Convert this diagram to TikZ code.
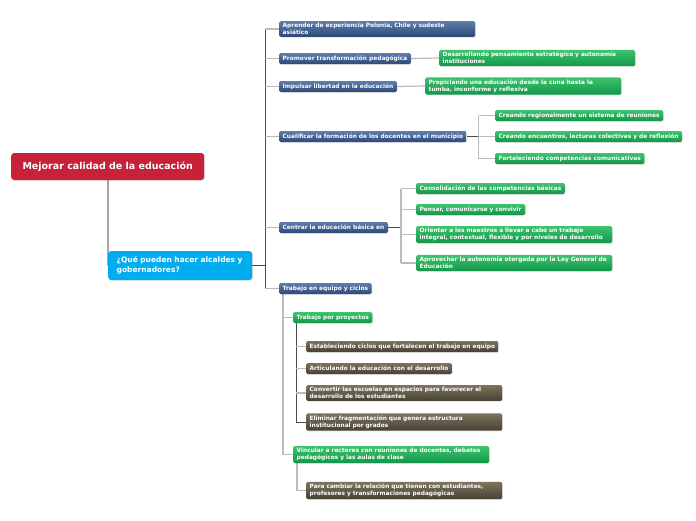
\documentclass[tikz,border=0pt]{standalone}
\usepackage{fontspec}
\setmainfont{DejaVu Sans}
\usetikzlibrary{shadows,backgrounds}
\definecolor{rojoraiz}{HTML}{C8213A}
\definecolor{cian}{HTML}{00AEEF}
\definecolor{azulA}{HTML}{5F7DAD}
\definecolor{azulB}{HTML}{2A4878}
\definecolor{verdeA}{HTML}{3DC46C}
\definecolor{verdeB}{HTML}{13964A}
\definecolor{cafeA}{HTML}{7C745E}
\definecolor{cafeB}{HTML}{474133}
\definecolor{grisrama}{HTML}{BBBBBB}
\definecolor{grisosc}{HTML}{4A4A4A}
\begin{document}
\begin{tikzpicture}[x=1pt,y=-1pt,
  caja/.style={rounded corners=1.5pt, text=white, anchor=west, align=left,
    font=\bfseries\fontsize{5.85}{6.9}\selectfont,
    inner xsep=3.5pt, inner ysep=2.2pt, minimum height=11pt,
    drop shadow={opacity=0.25,shadow xshift=0.7pt,shadow yshift=-0.7pt}},
  azul/.style={caja, top color=azulA, bottom color=azulB},
  verde/.style={caja, top color=verdeA, bottom color=verdeB},
  cafe/.style={caja, top color=cafeA, bottom color=cafeB},
  ancha/.style={text width=189pt},
  rama/.style={draw=grisrama, line width=1.2pt},
  tallo/.style={draw=grisosc, line width=1pt}]
  \useasboundingbox (0,0) rectangle (696,520);

  % raiz y pregunta
  \node[caja, fill=rojoraiz, font=\bfseries\fontsize{9.5}{11}\selectfont,
    rounded corners=3pt, align=center, minimum width=193pt, minimum height=27pt] (raiz) at (11,166.5) {Mejorar calidad de la educación};
  \node[caja, fill=cian, font=\bfseries\fontsize{7.5}{10}\selectfont,
    rounded corners=3pt, inner xsep=8.5pt, text width=127pt, minimum height=29pt] (preg) at (108,265.5) {¿Qué pueden hacer alcaldes y\\gobernadores?};

  % nivel 2
  \node[azul, ancha] (n1) at (279,29) {Aprender de experiencia Polonia, Chile y sudeste\\asiático};
  \node[azul] (n2) at (279,58.5) {Promover transformación pedagógica};
  \node[azul] (n3) at (279,86.5) {Impulsar libertad en la educación};
  \node[azul] (n4) at (279,136.5) {Cualificar la formación de los docentes en el municipio};
  \node[azul] (n5) at (279,227.5) {Centrar la educación básica en};
  \node[azul] (n6) at (279,288.5) {Trabajo en equipo y ciclos};

  % nivel 3
  \node[verde, ancha] (n2a) at (439,58) {Desarrollando pensamiento estratégico y autonomía\\instituciones};
  \node[verde, ancha] (n3a) at (425,86) {Propiciando una educación desde la cuna hasta la\\tumba, inconforme y reflexiva};
  \node[verde] (n4a) at (495,115.5) {Creando regionalmente un sistema de reuniones};
  \node[verde] (n4b) at (495,136.5) {Creando encuentros, lecturas colectivas y de reflexión};
  \node[verde] (n4c) at (495,158.5) {Fortaleciendo competencias comunicativas};
  \node[verde] (n5a) at (416,188.5) {Consolidación de las competencias básicas};
  \node[verde] (n5b) at (416,209.5) {Pensar, comunicarse y convivir};
  \node[verde, ancha] (n5c) at (416,234.5) {Orientar a los maestros a llevar a cabo un trabajo\\integral, contextual, flexible y por niveles de desarrollo};
  \node[verde, ancha] (n5d) at (416,263) {Aprovechar la autonomía otorgada por la Ley General de\\Educación};
  \node[verde] (n6a) at (293,317.5) {Trabajo por proyectos};
  \node[verde, ancha] (n6b) at (293,454.5) {Vincular a rectores con reuniones de docentes, debates\\pedagógicos y las aulas de clase};

  % nivel 4
  \node[cafe] (p1) at (306,346.5) {Estableciendo ciclos que fortalecen el trabajo en equipo};
  \node[cafe] (p2) at (306,368.5) {Articulando la educación con el desarrollo};
  \node[cafe, ancha] (p3) at (306,393) {Convertir las escuelas en espacios para favorecer el\\desarrollo de los estudiantes};
  \node[cafe, ancha] (p4) at (306,422) {Eliminar fragmentación que genera estructura\\institucional por grados};
  \node[cafe, ancha] (q1) at (306,490.5) {Para cambiar la relación que tienen con estudiantes,\\profesores y transformaciones pedagógicas};

  % conectores
  \begin{scope}[on background layer]
    \draw[draw=gray!70, line width=2.2pt] ([xshift=97pt]raiz.south west) -- (preg.west);
    \coordinate (c0) at ([xshift=13pt]preg.east);
    \draw[tallo] (preg.east) -- (c0);
    \draw[tallo, line width=0.8pt] (c0 |- n1.west) -- (c0 |- n6.west);
    \foreach \n in {n1,n2,n3,n4,n5,n6}
      \draw[rama] (c0 |- \n.west) -- (\n.west);
    \draw[rama] (n2.east) -- (n2a.west);
    \draw[rama] (n3.east) -- (n3a.west);
    \coordinate (c4) at ([xshift=12pt]n4.east);
    \draw[tallo] (n4.east) -- (c4);
    \draw[rama] (c4 |- n4a.west) -- (c4 |- n4c.west);
    \foreach \n in {n4a,n4b,n4c}
      \draw[rama] (c4 |- \n.west) -- (\n.west);
    \coordinate (c5) at ([xshift=13pt]n5.east);
    \draw[tallo] (n5.east) -- (c5);
    \draw[rama] (c5 |- n5a.west) -- (c5 |- n5d.west);
    \foreach \n in {n5a,n5b,n5c,n5d}
      \draw[rama] (c5 |- \n.west) -- (\n.west);
    \coordinate (c6) at ([xshift=4pt]n6.south west);
    \draw[rama] (c6) |- (n6b.west);
    \draw[rama] (c6 |- n6a.west) -- (n6a.west);
    \coordinate (c6a) at ([xshift=3pt]n6a.south west);
    \draw[tallo] (c6a) |- (p4.west);
    \foreach \n in {p1,p2,p3}
      \draw[rama] (c6a |- \n.west) -- (\n.west);
    \coordinate (c6b) at ([xshift=4pt]n6b.south west);
    \draw[rama] (c6b) |- (q1.west);
  \end{scope}
\end{tikzpicture}
\end{document}
